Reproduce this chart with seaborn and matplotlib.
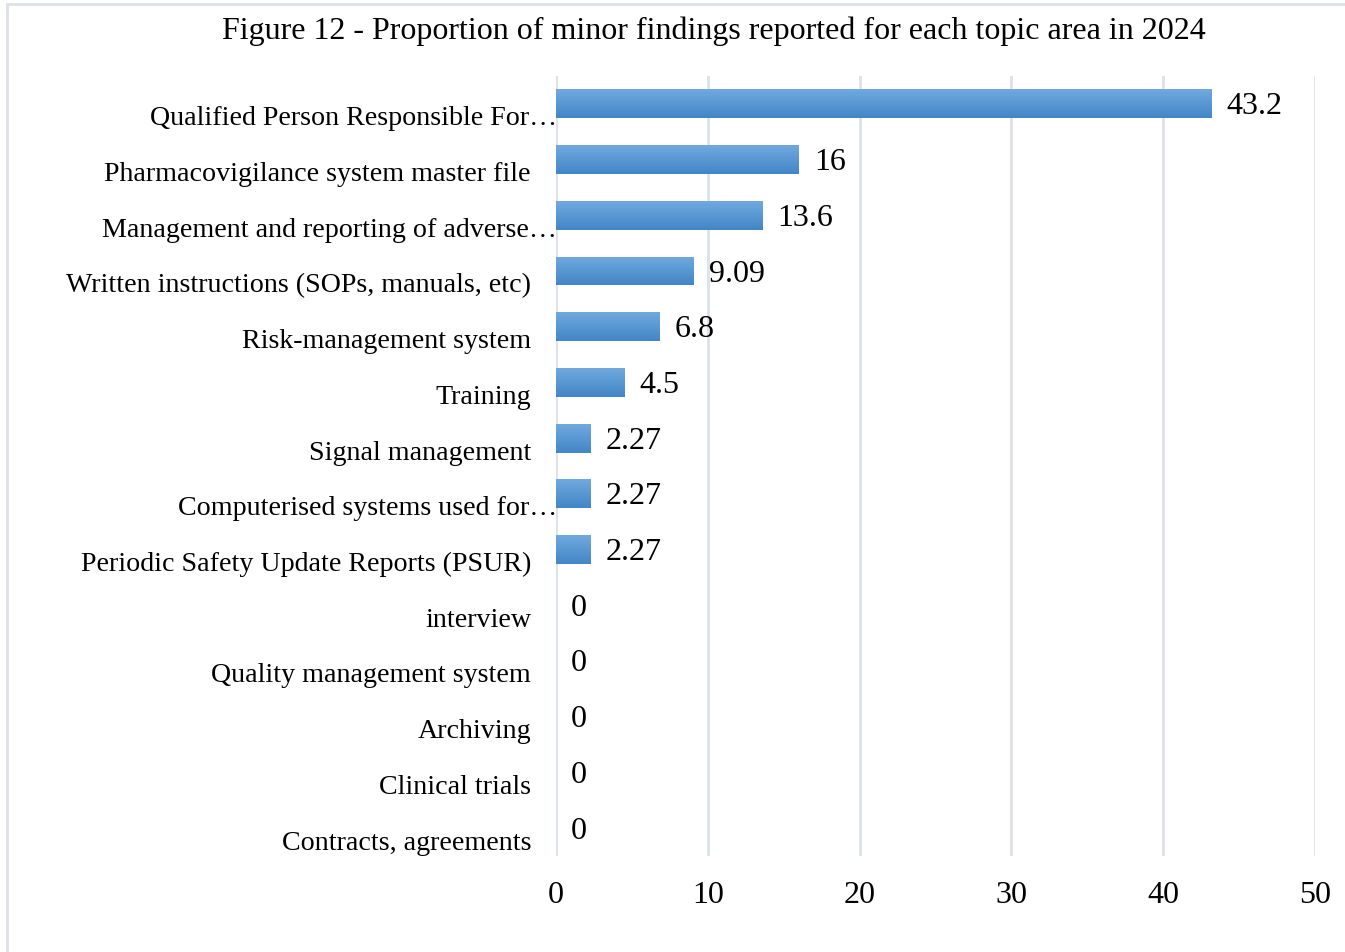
import matplotlib
matplotlib.use("Agg")
import matplotlib.pyplot as plt
import matplotlib.transforms as mtransforms
from matplotlib.patches import Rectangle
from matplotlib.colors import LinearSegmentedColormap
import numpy as np
import pandas as pd
import seaborn as sns

categories = [
    "Qualified Person Responsible For…",
    "Pharmacovigilance system master file",
    "Management and reporting of adverse…",
    "Written instructions (SOPs, manuals, etc)",
    "Risk-management system",
    "Training",
    "Signal management",
    "Computerised systems used for…",
    "Periodic Safety Update Reports (PSUR)",
    "interview",
    "Quality management system",
    "Archiving",
    "Clinical trials",
    "Contracts, agreements",
]
values = [43.2, 16, 13.6, 9.09, 6.8, 4.5, 2.27, 2.27, 2.27, 0, 0, 0, 0, 0]
value_labels = ["43.2", "16", "13.6", "9.09", "6.8", "4.5", "2.27", "2.27", "2.27",
                "0", "0", "0", "0", "0"]
x_ticks = [0, 10, 20, 30, 40, 50]
title = "Figure 12 - Proportion of minor findings reported for each topic area in 2024"

sns.set_theme(style="white")
plt.rcParams["font.family"] = ["Liberation Serif", "DejaVu Serif"]

df = pd.DataFrame({"category": categories, "value": values})

fig = plt.figure(figsize=(13.45, 9.53), dpi=100)
ax = fig.add_axes([556 / 1345, 1 - 857 / 953, (1315 - 556) / 1345, (857 - 77) / 953])

sns.barplot(data=df, y="category", x="value", orient="h", color="#5b9bd5",
            width=0.52, ax=ax, saturation=1, edgecolor="none")

# gradient fill on bars
grad = np.linspace(0, 1, 64).reshape(-1, 1)
cmap = LinearSegmentedColormap.from_list("g", ["#70a9de", "#4286c7"])
for p in ax.patches:
    w = p.get_width()
    if w <= 0:
        continue
    x0, y0, h = p.get_x(), p.get_y(), p.get_height()
    im = ax.imshow(grad, cmap=cmap, aspect="auto",
                   extent=(x0, x0 + w, y0 + h, y0), zorder=p.get_zorder() + 0.1,
                   interpolation="bilinear")
    im.set_clip_path(p)

ax.set_xlim(0, 50)
ax.set_ylim(13.5, -0.5)
ax.set_xticks(x_ticks)
ax.set_xticklabels([str(t) for t in x_ticks], fontsize=23, color="black")
ax.set_xlabel("")
ax.set_ylabel("")
for s in ax.spines.values():
    s.set_visible(False)
ax.grid(axis="x", color="#dde1e8", linewidth=2)
ax.set_axisbelow(True)
ax.tick_params(axis="both", length=0)
ax.tick_params(axis="x", pad=17)
ax.tick_params(axis="y", pad=18)

for lbl in ax.get_yticklabels():
    lbl.set_fontsize(20.2)
    lbl.set_color("black")
    dx = 26 if lbl.get_text().endswith("…") else 0
    lbl.set_transform(lbl.get_transform() +
                      mtransforms.ScaledTranslation(dx / 100, -11 / 100, fig.dpi_scale_trans))

for i, (v, t) in enumerate(zip(values, value_labels)):
    ax.annotate(t, xy=(v, i), xytext=(15, -2), textcoords="offset pixels",
                ha="left", va="center", fontsize=23, color="black")

fig.text(714 / 1345, 1 - 31 / 953, title, ha="center", va="center", fontsize=23,
         color="black")

# outer chart border
fig.patches.append(Rectangle((7 / 1345, -0.01), 1.1, 1 - 5 / 953 + 0.01,
                             transform=fig.transFigure, fill=False,
                             edgecolor="#dde1e8", linewidth=2))

fig.savefig("out.png", dpi=100, facecolor="white")
